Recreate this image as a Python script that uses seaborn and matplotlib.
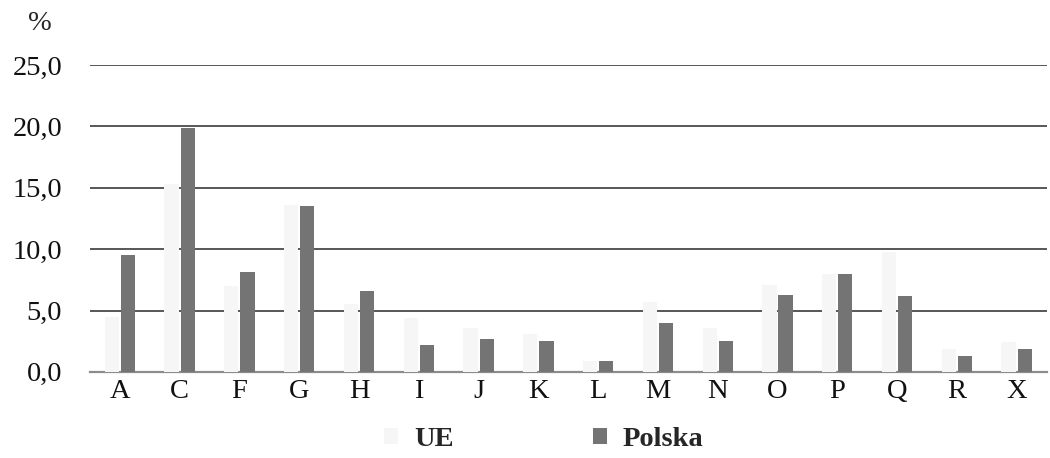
import pandas as pd
import matplotlib.pyplot as plt
import seaborn as sns
from matplotlib.ticker import FuncFormatter

# Dane
sekcje = ['A', 'C', 'F', 'G', 'H', 'I', 'J', 'K', 'L', 'M', 'N', 'O', 'P', 'Q', 'R', 'X']
ue = [4.5, 15.3, 7.0, 13.6, 5.5, 4.4, 3.6, 3.1, 0.9, 5.7, 3.6, 7.1, 8.0, 9.8, 1.9, 2.4]
polska = [9.5, 19.9, 8.1, 13.5, 6.6, 2.2, 2.7, 2.5, 0.9, 4.0, 2.5, 6.3, 8.0, 6.2, 1.3, 1.9]

df = pd.DataFrame({
    'sekcja': sekcje * 2,
    'wartosc': ue + polska,
    'obszar': ['UE'] * len(sekcje) + ['Polska'] * len(sekcje),
})

sns.set_style('white')
plt.rcParams['font.family'] = ['Liberation Serif', 'DejaVu Serif']
fs = 20.5

fig = plt.figure(figsize=(10.5, 4.58), dpi=100)
ax = fig.add_axes([0.0857, 0.188, 0.911, 0.670])

sns.barplot(data=df, x='sekcja', y='wartosc', hue='obszar',
            palette={'UE': '#f5f6f5', 'Polska': '#737473'},
            width=0.54, gap=0.12, linewidth=0, ax=ax, zorder=3)

ax.set_ylim(0, 25)
ax.set_yticks([0, 5, 10, 15, 20, 25])
ax.yaxis.set_major_formatter(FuncFormatter(lambda v, p: f'{v:.1f}'.replace('.', ',')))
ax.grid(axis='y', color='#2a2a2a', linewidth=1.1, zorder=0)
ax.set_axisbelow(True)
ax.set_xlabel('')
ax.set_ylabel('')
for s in ['top', 'right', 'left']:
    ax.spines[s].set_visible(False)
ax.spines['bottom'].set_color('#8c8c8c')
ax.spines['bottom'].set_linewidth(1.6)
ax.tick_params(axis='y', length=0, pad=20, labelsize=fs)
ax.tick_params(axis='x', length=0, pad=5, labelsize=fs)
for t in ax.get_yticklabels() + ax.get_xticklabels():
    t.set_color('#111111')

fig.text(40 / 1050, 1 - 24 / 458, '%', fontsize=fs, ha='center', va='center')

handles, labels = ax.get_legend_handles_labels()
ax.get_legend().remove()
fig.legend(handles, labels, loc='center', bbox_to_anchor=(0.518, 0.04),
           ncol=2, frameon=False, prop={'size': fs, 'weight': 'bold'},
           handlelength=0.5, handleheight=0.5, handletextpad=0.55,
           columnspacing=4.9)

plt.savefig('out.png', dpi=100)
